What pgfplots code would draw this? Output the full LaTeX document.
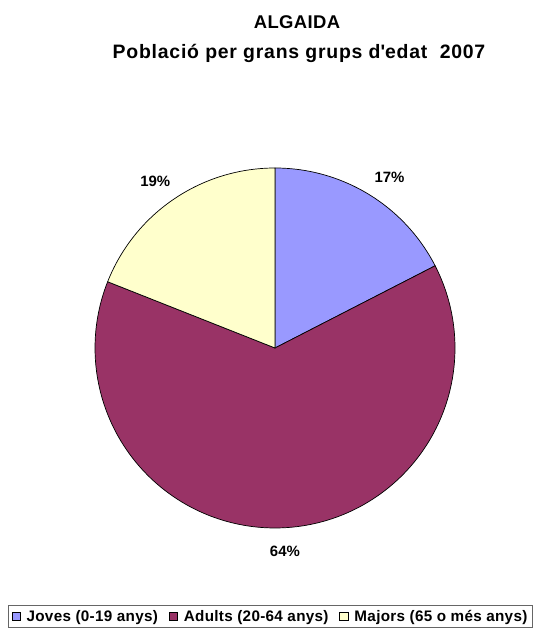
\documentclass[border=0pt]{standalone}
\usepackage{pgfplots}
\pgfplotsset{compat=1.18}
\usepackage{pgfplotstable}
\usepackage{fontspec}
\setmainfont{Liberation Sans}
\definecolor{joves}{HTML}{9999FF}
\definecolor{adults}{HTML}{993366}
\definecolor{majors}{HTML}{FFFFCC}
\pgfplotstableread{
grup valor
Joves 17.45
Adults 63.55
Majors 19.0
}\pietable
\begin{document}
\begin{tikzpicture}[x=1bp,y=1bp]
\useasboundingbox (0,0) rectangle (547,629);
\pgfplotstablegetelem{0}{valor}\of\pietable \let\vA\pgfplotsretval
\pgfplotstablegetelem{1}{valor}\of\pietable \let\vB\pgfplotsretval
\pgfplotstablegetelem{2}{valor}\of\pietable \let\vC\pgfplotsretval
\pgfmathsetmacro\aA{90}
\pgfmathsetmacro\aB{90-3.6*\vA}
\pgfmathsetmacro\aC{\aB-3.6*\vB}
\pgfmathsetmacro\aD{\aC-3.6*\vC}
\pgfmathsetmacro\mA{(\aA+\aB)/2}
\pgfmathsetmacro\mB{(\aB+\aC)/2}
\pgfmathsetmacro\mC{(\aC+\aD)/2}
\pgfmathtruncatemacro\pA{round(\vA)}
\pgfmathtruncatemacro\pB{round(\vB)}
\pgfmathtruncatemacro\pC{round(\vC)}
\node[anchor=base, font=\bfseries\fontsize{18.5}{22}\selectfont\addfontfeature{LetterSpace=2}] at (297,600) {ALGAIDA};
\node[anchor=base, font=\bfseries\fontsize{19.5}{22}\selectfont\addfontfeature{LetterSpace=4}] at (299,570) {Població per grans grups d\textquotesingle edat\ \ 2007};
\begin{axis}[at={(275bp,281bp)}, anchor=center, scale only axis,
  width=360bp, height=360bp, xmin=-1, xmax=1, ymin=-1, ymax=1,
  hide axis, clip=false,
  legend columns=3,
  legend style={at={(0.4875,-0.2135)}, anchor=north, draw=gray!80!black, line width=0.8pt,
    font=\bfseries\fontsize{15.3}{17}\selectfont\addfontfeature{LetterSpace=2}, inner sep=3pt,
    /tikz/every odd column/.append style={column sep=4pt},
    /tikz/every even column/.append style={column sep=9pt}},
  legend image code/.code={\draw[#1, draw=black, line width=0.5pt] (0bp,-4bp) rectangle (8.5bp,4.5bp);},
  ]
\addplot[draw=black, line width=0.7pt, fill=joves, domain=\aB:\aA, samples=90, variable=\t] ({cos(\t)},{sin(\t)}) -- (0,0) -- cycle;
\addlegendentry{Joves (0-19 anys)}
\addplot[draw=black, line width=0.7pt, fill=adults, domain=\aC:\aB, samples=180, variable=\t] ({cos(\t)},{sin(\t)}) -- (0,0) -- cycle;
\addlegendentry{Adults (20-64 anys)}
\addplot[draw=black, line width=0.7pt, fill=majors, domain=\aD:\aC, samples=90, variable=\t] ({cos(\t)},{sin(\t)}) -- (0,0) -- cycle;
\addlegendentry{Majors (65 o més anys)}
\node[font=\bfseries\fontsize{15}{17}\selectfont] at (axis cs:{1.14*cos(\mA-2.5)},{1.14*sin(\mA-2.5)}) {\pA\%};
\node[font=\bfseries\fontsize{15}{17}\selectfont] at (axis cs:{1.13*cos(\mB)},{1.13*sin(\mB)}) {\pB\%};
\node[font=\bfseries\fontsize{15}{17}\selectfont] at (axis cs:{1.14*cos(\mC+1.5)},{1.14*sin(\mC+1.5)}) {\pC\%};
\end{axis}
\end{tikzpicture}
\end{document}
